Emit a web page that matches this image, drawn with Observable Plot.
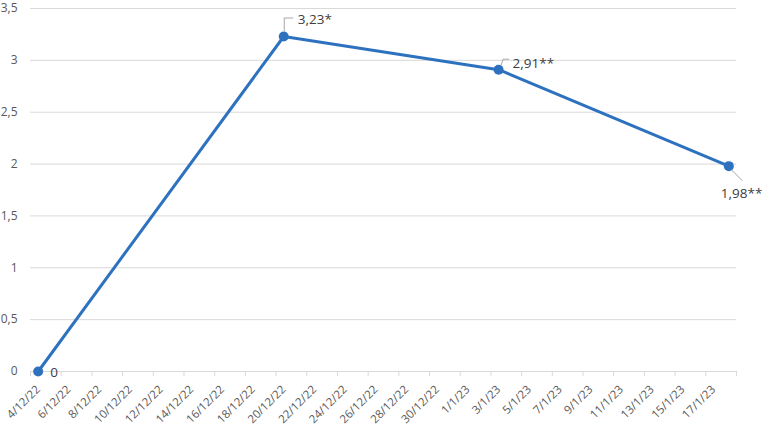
<!DOCTYPE html>
<html><head><meta charset="utf-8">
<script src="https://cdn.jsdelivr.net/npm/d3@7"></script>
<script src="https://cdn.jsdelivr.net/npm/@observablehq/plot@0.6"></script>
<style>body{margin:0;background:#fff}</style>
</head><body><div id="chart"></div>
<script>
// ---- data ----
const pointDates = ["4/12/22", "20/12/22", "3/1/23", "18/1/23"];
const values = [0, 3.23, 2.91, 1.98];
const pointLabels = ["0", "3,23*", "2,91**", "1,98**"];
const tickLabels = ["4/12/22","6/12/22","8/12/22","10/12/22","12/12/22","14/12/22","16/12/22","18/12/22","20/12/22","22/12/22","24/12/22","26/12/22","28/12/22","30/12/22","1/1/23","3/1/23","5/1/23","7/1/23","9/1/23","11/1/23","13/1/23","15/1/23","17/1/23"];
const yTicks = [0, 0.5, 1, 1.5, 2, 2.5, 3, 3.5];

// ---- styling / layout ----
const labelOffsets = [{dx: 12, dy: 1}, {dx: 14, dy: -17}, {dx: 14, dy: -6}, {dx: -8, dy: 28}];
const leaders = [null, [[1,-5],[1,-18],[10,-18]], [[3,-4],[5,-10],[11,-10]], [[3,4],[14,15]]];
const blue = "#2E72BF";

const parse = d3.utcParse("%d/%m/%y");
const DAY = 864e5;
const data = pointDates.map((d, i) => ({date: parse(d), value: values[i], label: pointLabels[i]}));
const ticks = tickLabels.map(t => ({date: parse(t), label: t}));
const x0 = new Date(+ticks[0].date - DAY / 2);
const x1 = new Date(+data[data.length - 1].date + DAY / 2);
const boundaries = ticks.map(t => new Date(+t.date - DAY / 2)).concat([x1]);

const leaderMark = (index, scales) => {
  const g = d3.create("svg:g").attr("fill", "none").attr("stroke", "#a6a6a6").attr("stroke-width", 1);
  data.forEach((d, i) => {
    const pts = leaders[i];
    if (!pts) return;
    const px = scales.x(d.date), py = scales.y(d.value);
    g.append("path").attr("d", "M" + pts.map(([a, b]) => (px + a) + "," + (py + b)).join("L"));
  });
  return g.node();
};

const chart = Plot.plot({
  width: 762, height: 425,
  marginLeft: 30, marginRight: 26, marginTop: 8, marginBottom: 54,
  style: {fontFamily: "'Open Sans', sans-serif", background: "#fff"},
  x: {type: "utc", domain: [x0, x1], axis: null},
  y: {domain: [0, 3.5], axis: null},
  marks: [
    Plot.gridY(yTicks.filter(v => v > 0), {stroke: "#d9d9d9", strokeOpacity: 1}),
    Plot.ruleY([0], {stroke: "#d9d9d9"}),
    Plot.axisY(yTicks, {tickSize: 0, tickPadding: 13, tickFormat: d => String(d).replace(".", ","), fontSize: 12, color: "#595959", label: null}),
    Plot.axisX(boundaries, {tickSize: 5, tickFormat: () => "", stroke: "#d9d9d9", label: null}),
    Plot.text(ticks, {x: "date", text: "label", frameAnchor: "bottom", dy: 16, rotate: -45, textAnchor: "end", lineAnchor: "middle", fontSize: 11.5, fill: "#595959"}),
    Plot.line(data, {x: "date", y: "value", stroke: blue, strokeWidth: 3}),
    Plot.dot(data, {x: "date", y: "value", r: 5, fill: blue}),
    leaderMark,
    ...data.map((d, i) => Plot.text([d], {x: "date", y: "value", text: "label", dx: labelOffsets[i].dx, dy: labelOffsets[i].dy, textAnchor: "start", fontSize: 13.5, fill: "#404040"}))
  ]
});
document.getElementById("chart").append(chart);
</script>
</body></html>
